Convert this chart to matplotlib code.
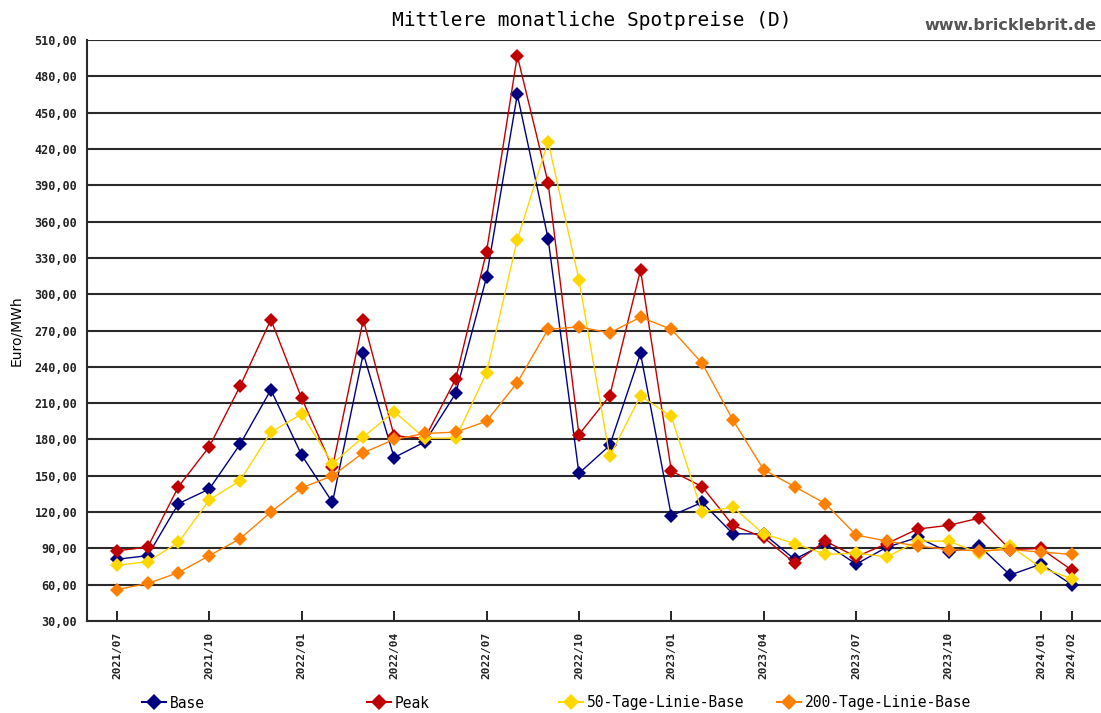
import matplotlib
matplotlib.use("Agg")
import matplotlib.pyplot as plt
from matplotlib.lines import Line2D

months = ['2021/07', '2021/08', '2021/09', '2021/10', '2021/11', '2021/12',
          '2022/01', '2022/02', '2022/03', '2022/04', '2022/05', '2022/06',
          '2022/07', '2022/08', '2022/09', '2022/10', '2022/11', '2022/12',
          '2023/01', '2023/02', '2023/03', '2023/04', '2023/05', '2023/06',
          '2023/07', '2023/08', '2023/09', '2023/10', '2023/11', '2023/12',
          '2024/01', '2024/02']

base = [81, 84, 127, 139, 176, 221, 167, 128, 251, 165, 178, 218,
        314, 465, 346, 152, 175, 251, 117, 128, 102, 102, 81, 94,
        77, 91, 99, 87, 92, 68, 77, 60]
peak = [88, 91, 141, 174, 224, 279, 214, 157, 279, 183, 181, 230,
        335, 497, 392, 184, 216, 320, 154, 141, 109, 99, 78, 96,
        83, 94, 106, 109, 115, 89, 90, 72]
ma50 = [76, 79, 95, 130, 146, 186, 201, 160, 182, 203, 181, 181,
        235, 345, 426, 312, 166, 216, 199, 120, 124, 102, 94, 85,
        86, 83, 96, 96, 86, 92, 74, 65]
ma200 = [56, 61, 70, 84, 98, 120, 140, 150, 169, 180, 185, 186,
         195, 227, 271, 273, 268, 281, 271, 243, 196, 155, 141, 127,
         101, 96, 92, 89, 88, 89, 87, 85]

tick_months = ['2021/07', '2021/10', '2022/01', '2022/04', '2022/07', '2022/10',
               '2023/01', '2023/04', '2023/07', '2023/10', '2024/01', '2024/02']

series = [
    ('Base', base, '#000080'),
    ('Peak', peak, '#c00000'),
    ('50-Tage-Linie-Base', ma50, '#ffd700'),
    ('200-Tage-Linie-Base', ma200, '#ff8000'),
]

mono = 'DejaVu Sans Mono'

fig = plt.figure(figsize=(11.01, 7.13), dpi=100)
ax = fig.add_axes([87 / 1101, 1 - 621 / 713, 1 - 87 / 1101, (621 - 40) / 713])

x = list(range(len(months)))
for name, vals, col in series:
    ax.plot(x, vals, color=col, lw=1.0, marker='D', markersize=7.5,
            markeredgewidth=0, label=name)

ax.set_xlim(-0.97, 31.95)
ax.set_ylim(30, 510)
yt = list(range(30, 511, 30))
ax.set_yticks(yt)
ax.set_yticklabels([f'{v},00' for v in yt], fontfamily=mono,
                   fontweight='bold', fontsize=8.5, color='#222222')
ax.tick_params(axis='y', length=0, pad=7)
ax.set_xticks([months.index(m) for m in tick_months])
ax.set_xticklabels(tick_months, rotation=90, fontfamily=mono,
                   fontweight='bold', fontsize=8, color='#222222')
ax.tick_params(axis='x', direction='in', length=7, width=1.2, pad=8)
ax.yaxis.grid(True, color='#2a2a2a', lw=1.5)
ax.set_axisbelow(True)
for s in ['top', 'right']:
    ax.spines[s].set_visible(False)
for s in ['left', 'bottom']:
    ax.spines[s].set_color('#2a2a2a')
    ax.spines[s].set_linewidth(1.5)

ax.set_ylabel('Euro/MWh', fontsize=10, labelpad=8)

fig.text(592 / 1101, 1 - 20 / 713, 'Mittlere monatliche Spotpreise (D)',
         ha='center', va='center', fontfamily=mono, fontsize=14)
fig.text(1097 / 1101, 1 - 25 / 713, 'www.bricklebrit.de', ha='right',
         va='center', fontweight='bold', fontsize=11.5, color='#555555')

# legend entries, placed one by one like the original
leg_x = [135, 360, 552, 770]
for (name, vals, col), lx in zip(series, leg_x):
    h = Line2D([], [], color=col, lw=1.5, marker='D', markersize=8,
               markeredgewidth=0)
    fig.legend([h], [name], loc='center left',
               bbox_to_anchor=(lx / 1101, 1 - 703 / 713), frameon=False,
               handlelength=1.6, handletextpad=0.3, borderpad=0,
               prop={'family': mono, 'size': 10.5})

fig.savefig('out.png', dpi=100)
